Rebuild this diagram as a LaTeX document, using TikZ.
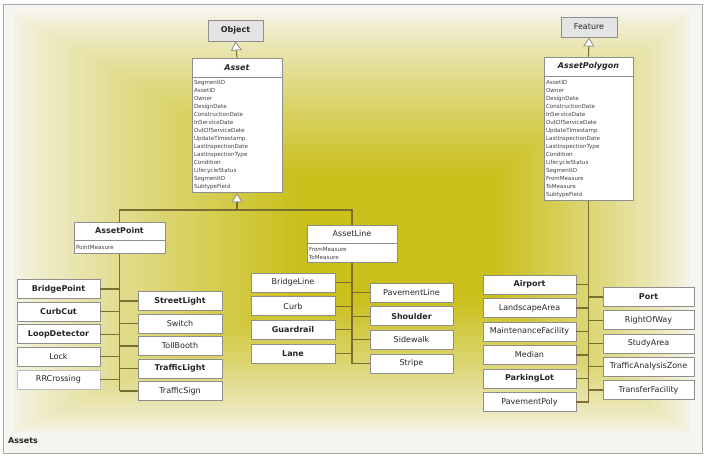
\documentclass[tikz,border=0pt]{standalone}
\usepackage{fontspec}
\setmainfont{DejaVu Sans}
\usetikzlibrary{arrows.meta}

\definecolor{cream}{HTML}{F4F2E4}
\definecolor{gold}{HTML}{C9C01C}
\definecolor{framebg}{HTML}{F6F5EF}
\definecolor{framegray}{HTML}{A9A9A9}
\definecolor{boxline}{HTML}{8E8E8E}
\definecolor{wire}{HTML}{7A6E30}
\definecolor{headgray}{HTML}{E4E4E4}

\begin{document}
\begin{tikzpicture}[x=1pt,y=-1pt,
  leaf/.style={draw=boxline, fill=white, line width=0.8pt, inner sep=0pt,
    minimum height=19pt, text=black!85, font=\fontsize{8}{9.6}\selectfont},
  leafb/.style={leaf, font=\fontsize{8}{9.6}\selectfont\bfseries},
  head/.style={draw=boxline, fill=headgray, line width=1pt, inner sep=0pt,
    text=black!85, font=\fontsize{8}{9.6}\selectfont},
  attrs/.style={draw=boxline, fill=white, line width=0.8pt, anchor=north,
    inner xsep=2pt, inner ysep=0pt, align=left, text=black!75,
    font=\fontsize{5.6}{8}\selectfont},
  wire/.style={draw=wire, line width=1.1pt},
  gen/.style={wire, -{Triangle[length=9pt,width=11pt,color=boxline,fill=white,line width=0.8pt]}}
]
\useasboundingbox (0,0) rectangle (708,458);

% frame and rectangular golden glow
\fill[framebg] (3,4) rectangle (702,453);
\foreach \i in {0,...,48}{
  \pgfmathsetmacro\t{\i/48}
  \pgfmathsetmacro\p{100*\t^0.85}
  \pgfmathsetmacro\xa{14+\t*(295-14)}
  \pgfmathsetmacro\ya{14+\t*(175-14)}
  \pgfmathsetmacro\xb{690-\t*(690-495)}
  \pgfmathsetmacro\yb{432-\t*(432-300)}
  \fill[gold!\p!cream] (\xa,\ya) rectangle (\xb,\yb);
}
\draw[framegray, line width=1pt] (3,4) rectangle (702,453);
\node[anchor=west, inner sep=0pt, text=black!85, font=\fontsize{8}{9.6}\selectfont\bfseries] (caption) at (8,441) {Assets};

% base classes
\node[head, minimum width=55pt, minimum height=21pt, font=\fontsize{8}{9.6}\selectfont\bfseries] (object) at (235.5,30.5) {Object};
\node[head, minimum width=56pt, minimum height=20pt] (feature) at (589,27) {Feature};

% Asset
\node[leafb, minimum width=90pt, minimum height=19pt] (asset) at (237,67.5) {\textit{Asset}};
\node[attrs, minimum width=90pt, text width=86pt, minimum height=115pt] (asset-attr) at (asset.south)
  {SegmentID\\AssetID\\Owner\\DesignDate\\ConstructionDate\\InServiceDate\\OutOfServiceDate\\UpdateTimestamp\\LastInspectionDate\\LastInspectionType\\Condition\\LifecycleStatus\\SegmentID\\SubtypeField};

% AssetPolygon
\node[leafb, minimum width=89pt, minimum height=19pt] (assetpolygon) at (588.5,66.5) {\textit{AssetPolygon}};
\node[attrs, minimum width=89pt, text width=85pt, minimum height=124pt] (assetpolygon-attr) at (assetpolygon.south)
  {AssetID\\Owner\\DesignDate\\ConstructionDate\\InServiceDate\\OutOfServiceDate\\UpdateTimestamp\\LastInspectionDate\\LastInspectionType\\Condition\\LifecycleStatus\\SegmentID\\FromMeasure\\ToMeasure\\SubtypeField};

% AssetPoint and AssetLine
\node[leafb, minimum width=91pt, minimum height=18pt] (assetpoint) at (119.5,231) {AssetPoint};
\node[attrs, minimum width=91pt, text width=87pt, minimum height=13pt] (assetpoint-attr) at (assetpoint.south) {PointMeasure};
\node[leaf, minimum width=90pt, minimum height=18pt] (assetline) at (352,234) {AssetLine};
\node[attrs, minimum width=90pt, text width=86pt, minimum height=19pt] (assetline-attr) at (assetline.south) {FromMeasure\\ToMeasure};

% point subtypes
\node[leafb, minimum width=83pt] (bridgepoint)  at (58.5,289)   {BridgePoint};
\node[leafb, minimum width=83pt] (curbcut)      at (58.5,311.6) {CurbCut};
\node[leafb, minimum width=83pt] (loopdetector) at (58.5,334.2) {LoopDetector};
\node[leaf,  minimum width=83pt] (lock)         at (58.5,356.8) {Lock};
\node[leaf,  minimum width=83pt, draw=boxline!60] (rrcrossing) at (58.5,379.4) {RRCrossing};
\node[leafb, minimum width=84pt] (streetlight)  at (180,301)    {StreetLight};
\node[leaf,  minimum width=84pt] (switch)       at (180,323.5)  {Switch};
\node[leaf,  minimum width=84pt] (tollbooth)    at (180,346)    {TollBooth};
\node[leafb, minimum width=84pt] (trafficlight) at (180,368.5)  {TrafficLight};
\node[leaf,  minimum width=84pt] (trafficsign)  at (180,391)    {TrafficSign};

% line subtypes
\node[leaf,  minimum width=84pt] (bridgeline)   at (293,282.5)   {BridgeLine};
\node[leaf,  minimum width=84pt] (curb)         at (293,306.2)   {Curb};
\node[leafb, minimum width=84pt] (guardrail)    at (293,329.9)   {Guardrail};
\node[leafb, minimum width=84pt] (lane)         at (293,353.6)   {Lane};
\node[leaf,  minimum width=83pt] (pavementline) at (411.5,292.5) {PavementLine};
\node[leafb, minimum width=83pt] (shoulder)     at (411.5,316.2) {Shoulder};
\node[leaf,  minimum width=83pt] (sidewalk)     at (411.5,339.9) {Sidewalk};
\node[leaf,  minimum width=83pt] (stripe)       at (411.5,363.6) {Stripe};

% polygon subtypes
\node[leafb, minimum width=93pt] (airport)       at (529.5,284.5) {Airport};
\node[leaf,  minimum width=93pt] (landscapearea) at (529.5,308)   {LandscapeArea};
\node[leaf,  minimum width=93pt] (maintenance)   at (529.5,331.5) {MaintenanceFacility};
\node[leaf,  minimum width=93pt] (median)        at (529.5,355)   {Median};
\node[leafb, minimum width=93pt] (parkinglot)    at (529.5,378.5) {ParkingLot};
\node[leaf,  minimum width=93pt] (pavementpoly)  at (529.5,402)   {PavementPoly};
\node[leafb, minimum width=91pt] (port)          at (648.5,297)   {Port};
\node[leaf,  minimum width=91pt] (rightofway)    at (648.5,320.25){RightOfWay};
\node[leaf,  minimum width=91pt] (studyarea)     at (648.5,343.5) {StudyArea};
\node[leaf,  minimum width=91pt] (tazone)        at (648.5,366.75){TrafficAnalysisZone};
\node[leaf,  minimum width=91pt] (transfer)      at (648.5,390)   {TransferFacility};

% generalisations
\draw[gen] (asset.north) -- (object.south);
\draw[gen] (assetpolygon.north) -- (feature.south);
\coordinate (bus) at (237,210);
\draw[wire] (assetpoint.north) |- (bus) -| (assetline.north);
\draw[gen] (bus) -- (asset-attr.south);

% trunks and branches
\draw[wire] (assetpoint-attr.south) -- (assetpoint-attr.south |- trafficsign.west);
\foreach \n in {bridgepoint,curbcut,loopdetector,lock,rrcrossing}
  \draw[wire] (\n.east) -- (\n.east -| assetpoint-attr.south);
\foreach \n in {streetlight,switch,tollbooth,trafficlight,trafficsign}
  \draw[wire] (\n.west) -- (\n.west -| assetpoint-attr.south);

\draw[wire] (assetline-attr.south) -- (assetline-attr.south |- stripe.west);
\foreach \n in {bridgeline,curb,guardrail,lane}
  \draw[wire] (\n.east) -- (\n.east -| assetline-attr.south);
\foreach \n in {pavementline,shoulder,sidewalk,stripe}
  \draw[wire] (\n.west) -- (\n.west -| assetline-attr.south);

\draw[wire] (assetpolygon-attr.south) -- (assetpolygon-attr.south |- pavementpoly.east);
\foreach \n in {airport,landscapearea,maintenance,median,parkinglot,pavementpoly}
  \draw[wire] (\n.east) -- (\n.east -| assetpolygon-attr.south);
\foreach \n in {port,rightofway,studyarea,tazone,transfer}
  \draw[wire] (\n.west) -- (\n.west -| assetpolygon-attr.south);
\end{tikzpicture}
\end{document}
